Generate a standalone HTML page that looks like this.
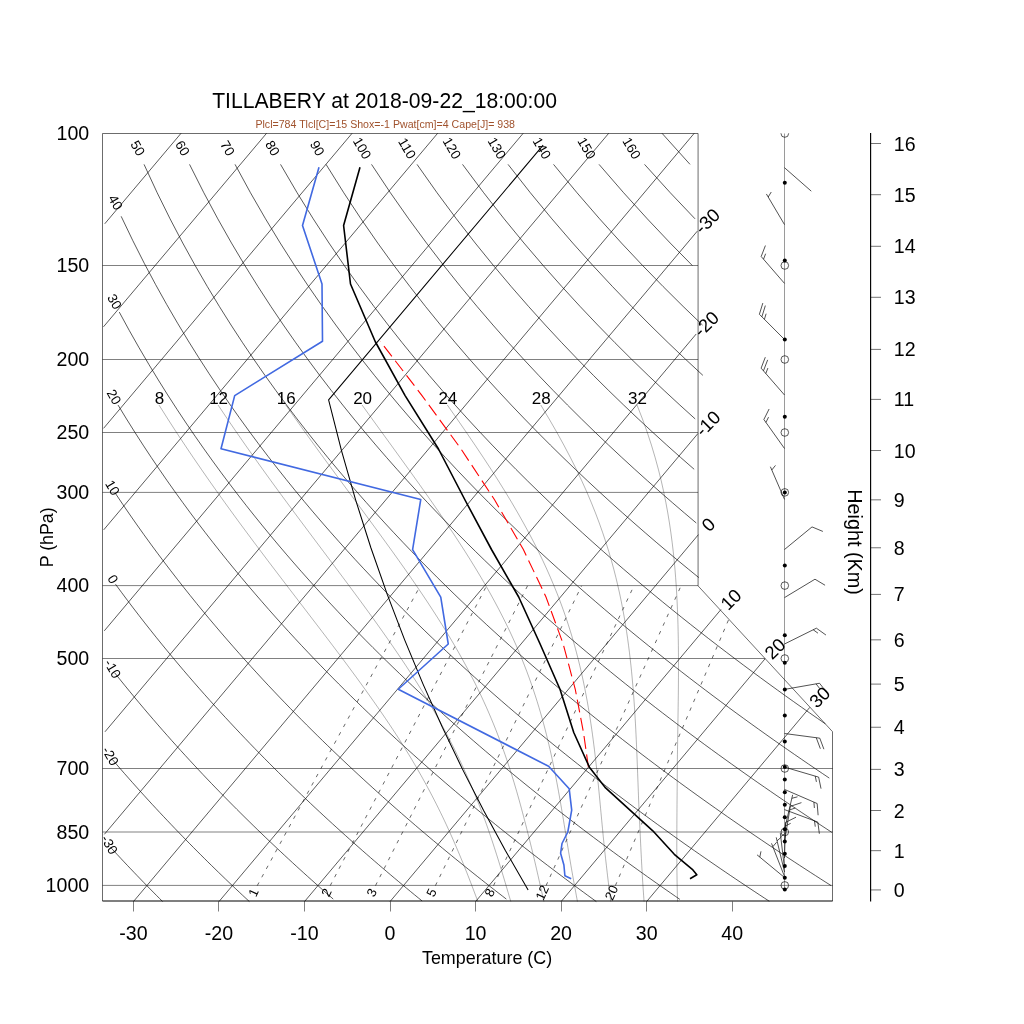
<!DOCTYPE html>
<html><head><meta charset="utf-8"><title>Skew-T</title>
<style>
html,body{margin:0;padding:0;background:#fff;}
svg{display:block;will-change:transform;}
text{font-family:"Liberation Sans",sans-serif;}
</style></head>
<body>
<svg width="1024" height="1024" viewBox="0 0 1024 1024">
<defs><clipPath id="poly"><path d="M102.5 133.26 L102.5 901.59 L832.72 901.59 L832.72 731.67 L698.08 585.9 L698.08 133.26 L102.5 133.26Z"/></clipPath><clipPath id="vp"><rect x="0" y="133.2" width="1024" height="900"/></clipPath></defs>
<rect width="1024" height="1024" fill="#fff"/>
<!-- wind staff + level markers -->
<path d="M784.5 133.5 V889.8" stroke="#000" stroke-width="0.4"/>
<g fill="none" stroke="#000" stroke-width="0.65" clip-path="url(#vp)"><circle cx="784.8" cy="885.4" r="3.8"/><circle cx="784.8" cy="832" r="3.8"/><circle cx="784.8" cy="768.5" r="3.8"/><circle cx="784.8" cy="658.5" r="3.8"/><circle cx="784.8" cy="585.6" r="3.8"/><circle cx="784.8" cy="492.4" r="3.8"/><circle cx="784.8" cy="432.5" r="3.8"/><circle cx="784.8" cy="359.5" r="3.8"/><circle cx="784.8" cy="265.5" r="3.8"/><circle cx="784.8" cy="133.5" r="3.8"/></g>
<!-- wind barbs -->
<path d="M784.5 167.7 L811.28 191.16 M784.5 224.6 L766.38 193.96 M768.19 197.02 L771.25 192.01 M784.5 283.4 L761.18 256.5 M761.18 256.5 L765.41 245.54 M763.52 259.19 L765.63 253.71 M784.5 339.5 L759.38 314.28 M759.38 314.28 L762.84 303.05 M761.89 316.8 L765.35 305.57 M764.4 319.32 L766.13 313.71 M784.5 395 L761.12 368.15 M761.12 368.15 L765.32 357.18 M763.46 370.84 L767.66 359.87 M765.8 373.52 L767.9 368.04 M784.5 448.5 L763.86 419.5 M763.86 419.5 L769.11 408.99 M765.92 422.4 L768.55 417.14 M784.5 499.4 L770.39 466.72 M771.8 469.98 L775.47 465.4 M784.5 549.5 L812.02 526.91 M812.02 526.91 L822.86 531.43 M784.5 597.6 L814.98 579.21 M814.98 579.21 L825.06 585.24 M784.5 644 L816.4 628.2 M816.4 628.2 L825.95 635.04 M813.21 629.78 L817.98 633.2 M784.5 689.4 L819.56 683.25 M819.56 683.25 L826.79 692.51 M816.06 683.86 L819.67 688.49 M784.5 733.5 L819.79 738.18 M819.79 738.18 L823.9 749.19 M816.26 737.71 L820.37 748.72 M784.5 767.1 L818.65 777.14 M818.65 777.14 L821.02 788.65 M815.24 776.14 L816.42 781.89 M784.5 789.4 L817.17 803.53 M817.17 803.53 L818.12 815.24 M813.91 802.12 L814.38 807.97 M784.5 809.6 L817.83 822.1 M817.83 822.1 L819.36 833.75 M814.5 820.85 L815.26 826.67 M784.5 829.5 L792.65 794.85 M791.84 798.31 L797.52 796.82 M784.5 841.5 L790.3 806.38 M790.3 806.38 L801.44 802.63 M789.72 809.89 L795.29 808.01 M784.5 858 L785.5 822.41 M785.5 822.41 L796.02 817.19 M785.4 825.97 L790.66 823.36 M784.5 868.4 L780.31 833.05 M780.73 836.58 L785.55 833.23 M784.5 872 L776.23 837.37 M777.06 840.84 L781.46 836.95 M784.5 876.5 L771.53 843.35 M772.83 846.66 L776.65 842.2 M784.5 877.5 L757.05 854.83 M759.8 857.1 L760.97 851.34" fill="none" stroke="#000" stroke-width="0.68"/>
<g fill="#000"><circle cx="784.8" cy="182.8" r="2"/><circle cx="784.8" cy="260.4" r="2"/><circle cx="784.8" cy="339.6" r="2"/><circle cx="784.8" cy="416.7" r="2"/><circle cx="784.8" cy="492.4" r="2"/><circle cx="784.8" cy="565.6" r="2"/><circle cx="784.8" cy="635.3" r="2"/><circle cx="784.8" cy="662.7" r="2"/><circle cx="784.8" cy="689.4" r="2"/><circle cx="784.8" cy="715.6" r="2"/><circle cx="784.8" cy="741.6" r="2"/><circle cx="784.8" cy="767.1" r="2"/><circle cx="784.8" cy="779.6" r="2"/><circle cx="784.8" cy="792.3" r="2"/><circle cx="784.8" cy="804.7" r="2"/><circle cx="784.8" cy="817.2" r="2"/><circle cx="784.8" cy="829.3" r="2"/><circle cx="784.8" cy="841.5" r="2"/><circle cx="784.8" cy="853.75" r="2"/><circle cx="784.8" cy="865.9" r="2"/><circle cx="784.8" cy="877.8" r="2"/><circle cx="784.8" cy="889.4" r="2"/></g>
<!-- skew-T background -->
<path d="M104.73 223.82 L181.05 133.28 M103.48 326.84 L266.58 133.28 M103.56 428.35 L352.12 133.28 M103.69 529.85 L437.66 133.28 M104.29 630.84 L523.19 133.28 M104.97 731.8 L608.73 133.28 M104.36 834.33 L694.26 133.28 M133.43 901.59 L697.3 231.15 M218.96 901.59 L696.23 333.98 M304.5 901.59 L697.89 433.59 M390.03 901.59 L698.39 534.66 M475.57 901.59 L720.98 609.5 M561.11 901.59 L765.06 658.81 M646.64 901.59 L809.8 707.35 M110.7 847.47 L114.06 851.12 L117.41 854.74 L120.75 858.32 L124.06 861.86 L127.37 865.36 L130.65 868.82 L133.92 872.25 L137.17 875.64 L140.41 879 L143.63 882.33 L146.84 885.62 L150.03 888.88 L153.21 892.1 L156.37 895.3 L159.52 898.46 L162.65 901.59 M112.25 759.39 L116.35 764.17 L120.43 768.87 L124.48 773.52 L128.5 778.09 L132.5 782.61 L136.48 787.06 L140.43 791.45 L144.36 795.79 L148.26 800.06 L152.14 804.29 L156 808.45 L159.84 812.57 L163.66 816.64 L167.45 820.65 L171.22 824.62 L174.97 828.54 L178.71 832.41 L182.42 836.24 L186.11 840.03 L189.78 843.77 L193.43 847.47 L197.06 851.12 L200.67 854.74 L204.27 858.32 L207.84 861.86 L211.4 865.36 L214.94 868.82 L218.46 872.25 L221.97 875.64 L225.45 879 L228.92 882.33 L232.37 885.62 L235.81 888.88 L239.23 892.1 L242.63 895.3 L246.02 898.46 L249.39 901.59 M114.72 672.89 L119.67 679.1 L124.59 685.19 L129.47 691.17 L134.31 697.04 L139.11 702.81 L143.88 708.48 L148.62 714.05 L153.32 719.53 L157.98 724.92 L162.62 730.22 L167.22 735.44 L171.78 740.58 L176.32 745.63 L180.82 750.61 L185.3 755.52 L189.74 760.35 L194.16 765.11 L198.54 769.81 L202.9 774.44 L207.23 779 L211.53 783.5 L215.81 787.94 L220.06 792.32 L224.28 796.65 L228.47 800.91 L232.65 805.12 L236.79 809.28 L240.91 813.39 L245.01 817.44 L249.08 821.45 L253.13 825.41 L257.15 829.32 L261.16 833.18 L265.14 837 L269.09 840.78 L273.03 844.51 L276.94 848.2 L280.83 851.85 L284.71 855.46 L288.56 859.03 L292.39 862.56 L296.2 866.06 L299.99 869.51 L303.76 872.93 L307.51 876.32 L311.24 879.67 L314.95 882.99 L318.65 886.27 L322.32 889.52 L325.98 892.74 L329.62 895.93 L333.24 899.09 M115.51 584.22 L121.47 592.33 L127.38 600.25 L133.23 607.98 L139.03 615.53 L144.77 622.91 L150.47 630.12 L156.11 637.19 L161.7 644.1 L167.25 650.87 L172.74 657.5 L178.19 664 L183.59 670.38 L188.95 676.63 L194.27 682.77 L199.54 688.79 L204.77 694.71 L209.96 700.52 L215.1 706.22 L220.21 711.83 L225.28 717.35 L230.31 722.78 L235.3 728.11 L240.26 733.36 L245.18 738.53 L250.06 743.62 L254.91 748.63 L259.73 753.56 L264.51 758.43 L269.26 763.22 L273.97 767.94 L278.65 772.59 L283.31 777.18 L287.93 781.71 L292.52 786.17 L297.08 790.58 L301.61 794.92 L306.12 799.21 L310.59 803.45 L315.04 807.63 L319.46 811.75 L323.85 815.83 L328.21 819.85 L332.55 823.83 L336.87 827.76 L341.15 831.64 L345.42 835.48 L349.65 839.27 L353.87 843.02 L358.06 846.73 L362.22 850.4 L366.37 854.02 L370.49 857.61 L374.58 861.15 L378.66 864.66 L382.71 868.13 L386.74 871.57 L390.75 874.97 L394.74 878.33 L398.71 881.66 L402.66 884.96 L406.59 888.23 L410.49 891.46 L414.38 894.66 L418.25 897.83 L422.1 900.97 M115.85 494.02 L122.99 504.66 L130.05 514.97 L137.03 524.96 L143.93 534.66 L150.76 544.08 L157.51 553.23 L164.19 562.14 L170.8 570.81 L177.34 579.25 L183.81 587.49 L190.22 595.52 L196.56 603.36 L202.84 611.02 L209.06 618.5 L215.22 625.81 L221.32 632.97 L227.36 639.97 L233.35 646.82 L239.28 653.54 L245.16 660.12 L250.99 666.57 L256.77 672.89 L262.49 679.1 L268.17 685.19 L273.8 691.17 L279.39 697.04 L284.93 702.81 L290.42 708.48 L295.87 714.05 L301.28 719.53 L306.64 724.92 L311.96 730.22 L317.25 735.44 L322.49 740.58 L327.69 745.63 L332.86 750.61 L337.99 755.52 L343.08 760.35 L348.13 765.11 L353.15 769.81 L358.14 774.44 L363.09 779 L368 783.5 L372.89 787.94 L377.74 792.32 L382.56 796.65 L387.34 800.91 L392.1 805.12 L396.83 809.28 L401.52 813.39 L406.19 817.44 L410.83 821.45 L415.43 825.41 L420.01 829.32 L424.57 833.18 L429.09 837 L433.59 840.78 L438.07 844.51 L442.51 848.2 L446.93 851.85 L451.33 855.46 L455.7 859.03 L460.05 862.56 L464.37 866.06 L468.67 869.51 L472.94 872.93 L477.2 876.32 L481.43 879.67 L485.63 882.99 L489.82 886.27 L493.98 889.52 L498.12 892.74 L502.24 895.93 L506.34 899.09 M118.03 405.06 L126.5 418.96 L134.86 432.29 L143.1 445.1 L151.24 457.43 L159.27 469.31 L167.2 480.77 L175.03 491.85 L182.76 502.56 L190.39 512.93 L197.93 522.99 L205.38 532.74 L212.75 542.22 L220.03 551.42 L227.22 560.38 L234.34 569.09 L241.38 577.58 L248.34 585.86 L255.22 593.93 L262.04 601.81 L268.78 609.5 L275.45 617.02 L282.06 624.36 L288.6 631.55 L295.08 638.58 L301.49 645.46 L307.85 652.21 L314.14 658.81 L320.38 665.29 L326.56 671.64 L332.69 677.87 L338.76 683.98 L344.77 689.98 L350.74 695.88 L356.66 701.67 L362.52 707.35 L368.34 712.95 L374.11 718.44 L379.83 723.85 L385.51 729.17 L391.14 734.4 L396.73 739.56 L402.28 744.63 L407.78 749.62 L413.24 754.54 L418.67 759.39 L424.05 764.17 L429.39 768.87 L434.7 773.52 L439.97 778.09 L445.2 782.61 L450.39 787.06 L455.55 791.45 L460.67 795.79 L465.76 800.06 L470.82 804.29 L475.84 808.45 L480.83 812.57 L485.79 816.64 L490.72 820.65 L495.61 824.62 L500.48 828.54 L505.31 832.41 L510.12 836.24 L514.89 840.03 L519.64 843.77 L524.36 847.47 L529.05 851.12 L533.71 854.74 L538.35 858.32 L542.96 861.86 L547.54 865.36 L552.1 868.82 L556.63 872.25 L561.14 875.64 L565.62 879 L570.08 882.33 L574.52 885.62 L578.93 888.88 L583.32 892.1 L587.68 895.3 L592.02 898.46 L596.34 901.59 M119.28 312.09 L129.26 330.43 L139.1 347.8 L148.79 364.29 L158.33 379.99 L167.72 394.97 L176.97 409.29 L186.09 423.02 L195.08 436.19 L203.93 448.85 L212.67 461.04 L221.28 472.79 L229.77 484.13 L238.15 495.1 L246.41 505.71 L254.57 515.98 L262.63 525.94 L270.59 535.61 L278.45 545 L286.21 554.13 L293.88 563.02 L301.46 571.66 L308.96 580.09 L316.37 588.3 L323.7 596.31 L330.94 604.13 L338.12 611.77 L345.21 619.24 L352.23 626.54 L359.18 633.67 L366.06 640.66 L372.87 647.5 L379.62 654.2 L386.3 660.77 L392.91 667.21 L399.47 673.52 L405.96 679.71 L412.4 685.79 L418.78 691.76 L425.1 697.62 L431.36 703.38 L437.58 709.04 L443.74 714.6 L449.85 720.07 L455.9 725.45 L461.91 730.75 L467.87 735.96 L473.79 741.09 L479.65 746.13 L485.47 751.11 L491.25 756 L496.98 760.83 L502.67 765.59 L508.32 770.27 L513.93 774.9 L519.5 779.45 L525.02 783.95 L530.51 788.38 L535.96 792.76 L541.37 797.07 L546.75 801.34 L552.09 805.54 L557.39 809.7 L562.66 813.8 L567.89 817.85 L573.09 821.85 L578.26 825.8 L583.39 829.71 L588.49 833.57 L593.56 837.38 L598.6 841.15 L603.6 844.88 L608.58 848.57 L613.53 852.21 L618.44 855.82 L623.33 859.38 L628.19 862.91 L633.03 866.4 L637.83 869.86 L642.61 873.27 L647.36 876.66 L652.08 880 L656.78 883.32 L661.45 886.6 L666.1 889.85 L670.72 893.06 L675.32 896.25 L679.89 899.4 M121.17 216.32 L132.83 240.68 L144.31 263.35 L155.59 284.55 L166.68 304.45 L177.58 323.21 L188.3 340.96 L198.83 357.79 L209.19 373.8 L219.38 389.06 L229.4 403.64 L239.26 417.59 L248.97 430.98 L258.53 443.84 L267.94 456.22 L277.22 468.14 L286.36 479.64 L295.37 490.76 L304.25 501.5 L313.02 511.91 L321.66 522 L330.19 531.78 L338.61 541.28 L346.93 550.51 L355.14 559.49 L363.25 568.23 L371.26 576.74 L379.18 585.04 L387.01 593.13 L394.75 601.03 L402.4 608.74 L409.97 616.27 L417.46 623.64 L424.87 630.84 L432.2 637.88 L439.45 644.78 L446.64 651.54 L453.75 658.16 L460.79 664.65 L467.76 671.01 L474.67 677.25 L481.51 683.38 L488.29 689.39 L495 695.29 L501.66 701.09 L508.26 706.79 L514.8 712.39 L521.28 717.9 L527.71 723.31 L534.09 728.64 L540.41 733.88 L546.68 739.04 L552.9 744.12 L559.07 749.13 L565.19 754.05 L571.27 758.91 L577.3 763.69 L583.28 768.41 L589.22 773.05 L595.11 777.64 L600.96 782.16 L606.77 786.62 L612.54 791.01 L618.26 795.35 L623.95 799.64 L629.59 803.87 L635.2 808.04 L640.77 812.16 L646.31 816.23 L651.8 820.25 L657.26 824.23 L662.69 828.15 L668.08 832.03 L673.43 835.86 L678.75 839.65 L684.04 843.4 L689.3 847.1 L694.52 850.76 L699.71 854.38 L704.88 857.96 L710.01 861.51 L715.11 865.01 L720.18 868.48 L725.22 871.91 L730.23 875.31 L735.21 878.67 L740.17 882 L745.1 885.29 L750 888.55 L754.87 891.78 L759.72 894.98 L764.54 898.14 L769.34 901.28 M144.04 164.36 L157.17 192.73 L170.07 218.84 L182.74 243.02 L195.16 265.53 L207.35 286.59 L219.31 306.38 L231.04 325.03 L242.56 342.68 L253.86 359.43 L264.96 375.36 L275.86 390.54 L286.58 405.06 L297.11 418.96 L307.47 432.29 L317.67 445.1 L327.7 457.43 L337.57 469.31 L347.3 480.77 L356.88 491.85 L366.32 502.56 L375.63 512.93 L384.81 522.99 L393.87 532.74 L402.8 542.22 L411.62 551.42 L420.32 560.38 L428.91 569.09 L437.4 577.58 L445.79 585.86 L454.07 593.93 L462.26 601.81 L470.36 609.5 L478.36 617.02 L486.28 624.36 L494.11 631.55 L501.85 638.58 L509.51 645.46 L517.1 652.21 L524.61 658.81 L532.04 665.29 L539.4 671.64 L546.69 677.87 L553.9 683.98 L561.05 689.98 L568.14 695.88 L575.16 701.67 L582.11 707.35 L589 712.95 L595.84 718.44 L602.61 723.85 L609.33 729.17 L615.99 734.4 L622.59 739.56 L629.14 744.63 L635.64 749.62 L642.08 754.54 L648.48 759.39 L654.82 764.17 L661.11 768.87 L667.36 773.52 L673.56 778.09 L679.72 782.61 L685.83 787.06 L691.89 791.45 L697.91 795.79 L703.89 800.06 L709.83 804.29 L715.72 808.45 L721.58 812.57 L727.39 816.64 L733.17 820.65 L738.9 824.62 L744.6 828.54 L750.26 832.41 L755.89 836.24 L761.48 840.03 L767.03 843.77 L772.55 847.47 L778.04 851.12 L783.49 854.74 L788.91 858.32 L794.3 861.86 L799.65 865.36 L804.97 868.82 L810.26 872.25 L815.52 875.64 L820.75 879 L825.95 882.33 L831.13 885.62 M189.54 164.36 L203.82 192.73 L217.8 218.84 L231.48 243.02 L244.88 265.53 L257.99 286.59 L270.84 306.38 L283.42 325.03 L295.75 342.68 L307.84 359.43 L319.7 375.36 L331.34 390.54 L342.76 405.06 L353.98 418.96 L365.01 432.29 L375.85 445.1 L386.52 457.43 L397.01 469.31 L407.33 480.77 L417.5 491.85 L427.51 502.56 L437.38 512.93 L447.11 522.99 L456.69 532.74 L466.15 542.22 L475.48 551.42 L484.69 560.38 L493.77 569.09 L502.74 577.58 L511.6 585.86 L520.36 593.93 L529 601.81 L537.55 609.5 L546 617.02 L554.35 624.36 L562.61 631.55 L570.77 638.58 L578.85 645.46 L586.85 652.21 L594.76 658.81 L602.59 665.29 L610.34 671.64 L618.02 677.87 L625.62 683.98 L633.15 689.98 L640.6 695.88 L647.99 701.67 L655.31 707.35 L662.56 712.95 L669.75 718.44 L676.87 723.85 L683.93 729.17 L690.93 734.4 L697.88 739.56 L704.76 744.63 L711.59 749.62 L718.36 754.54 L725.08 759.39 L731.74 764.17 L738.36 768.87 L744.92 773.52 L751.43 778.09 L757.89 782.61 L764.3 787.06 L770.67 791.45 L776.99 795.79 L783.26 800.06 L789.49 804.29 L795.68 808.45 L801.82 812.57 L807.92 816.64 L813.98 820.65 L820 824.62 L825.98 828.54 L831.92 832.41 M235.04 164.36 L250.46 192.73 L265.52 218.84 L280.23 243.02 L294.6 265.53 L308.64 286.59 L322.37 306.38 L335.8 325.03 L348.95 342.68 L361.82 359.43 L374.44 375.36 L386.81 390.54 L398.94 405.06 L410.85 418.96 L422.55 432.29 L434.04 445.1 L445.34 457.43 L456.44 469.31 L467.37 480.77 L478.12 491.85 L488.7 502.56 L499.13 512.93 L509.4 522.99 L519.52 532.74 L529.5 542.22 L539.34 551.42 L549.05 560.38 L558.63 569.09 L568.09 577.58 L577.42 585.86 L586.64 593.93 L595.75 601.81 L604.74 609.5 L613.63 617.02 L622.42 624.36 L631.11 631.55 L639.7 638.58 L648.19 645.46 L656.6 652.21 L664.92 658.81 L673.15 665.29 L681.29 671.64 L689.35 677.87 L697.34 683.98 L705.24 689.98 L713.07 695.88 L720.82 701.67 L728.5 707.35 L736.11 712.95 L743.66 718.44 L751.13 723.85 L758.54 729.17 L765.88 734.4 L773.16 739.56 L780.38 744.63 L787.54 749.62 L794.64 754.54 L801.68 759.39 L808.67 764.17 L815.6 768.87 L822.47 773.52 L829.29 778.09 M280.54 164.36 L297.1 192.73 L313.24 218.84 L328.97 243.02 L344.31 265.53 L359.28 286.59 L373.9 306.38 L388.18 325.03 L402.14 342.68 L415.8 359.43 L429.18 375.36 L442.28 390.54 L455.13 405.06 L467.73 418.96 L480.09 432.29 L492.23 445.1 L504.16 457.43 L515.88 469.31 L527.4 480.77 L538.74 491.85 L549.89 502.56 L560.88 512.93 L571.69 522.99 L582.35 532.74 L592.85 542.22 L603.21 551.42 L613.42 560.38 L623.49 569.09 L633.43 577.58 L643.24 585.86 L652.92 593.93 L662.49 601.81 L671.93 609.5 L681.27 617.02 L690.49 624.36 L699.61 631.55 L708.62 638.58 L717.54 645.46 L726.35 652.21 L735.07 658.81 L743.7 665.29 L752.24 671.64 L760.69 677.87 L769.05 683.98 L777.33 689.98 L785.53 695.88 L793.66 701.67 L801.7 707.35 L809.67 712.95 L817.57 718.44 L825.39 723.85 M326.03 164.36 L343.75 192.73 L360.97 218.84 L377.72 243.02 L394.03 265.53 L409.93 286.59 L425.43 306.38 L440.56 325.03 L455.34 342.68 L469.78 359.43 L483.92 375.36 L497.75 390.54 L511.31 405.06 L524.6 418.96 L537.63 432.29 L550.42 445.1 L562.97 457.43 L575.31 469.31 L587.43 480.77 L599.36 491.85 L611.08 502.56 L622.62 512.93 L633.99 522.99 L645.18 532.74 L656.2 542.22 L667.07 551.42 L677.78 560.38 L688.35 569.09 L698.77 577.58 M371.53 164.36 L390.39 192.73 L408.69 218.84 L426.47 243.02 L443.75 265.53 L460.57 286.59 L476.96 306.38 L492.94 325.03 L508.53 342.68 L523.77 359.43 L538.66 375.36 L553.23 390.54 L567.49 405.06 L581.47 418.96 L595.17 432.29 L608.6 445.1 L621.79 457.43 L634.74 469.31 L647.47 480.77 L659.97 491.85 L672.27 502.56 L684.37 512.93 L696.28 522.99 M417.03 164.36 L437.03 192.73 L456.42 218.84 L475.21 243.02 L493.47 265.53 L511.21 286.59 L528.49 306.38 L545.31 325.03 L561.73 342.68 L577.75 359.43 L593.4 375.36 L608.7 390.54 L623.68 405.06 L638.34 418.96 L652.71 432.29 L666.79 445.1 L680.61 457.43 L694.18 469.31 M462.53 164.36 L483.68 192.73 L504.14 218.84 L523.96 243.02 L543.19 265.53 L561.86 286.59 L580.02 306.38 L597.69 325.03 L614.92 342.68 L631.73 359.43 L648.14 375.36 L664.17 390.54 L679.86 405.06 L695.21 418.96 M508.02 164.36 L530.32 192.73 L551.86 218.84 L572.71 243.02 L592.9 265.53 L612.5 286.59 L631.55 306.38 L650.07 325.03 L668.12 342.68 L685.71 359.43 L702.88 375.36 M553.52 164.36 L576.97 192.73 L599.59 218.84 L621.45 243.02 L642.62 265.53 L663.15 286.59 L683.08 306.38 L702.45 325.03 M599.02 164.36 L623.61 192.73 L647.31 218.84 L670.2 243.02 L692.34 265.53 M644.52 164.36 L670.25 192.73 L695.04 218.84 M662 133.28 L690.01 164.36" fill="none" stroke="#000" stroke-width="0.65"/>
<path d="M102.5 885.4 H832.72 M102.5 832 H832.72 M102.5 768.5 H832.72 M102.5 658.5 H765.09 M102.5 585.6 H698.08 M102.5 492.4 H698.08 M102.5 432.5 H698.08 M102.5 359.5 H698.08 M102.5 265.5 H698.08" fill="none" stroke="#000" stroke-width="0.5"/>
<path d="M637.04 405.06 L642.45 418.96 L647.22 432.29 L651.43 445.1 L655.12 457.43 L658.37 469.31 L661.22 480.77 L663.71 491.85 L665.89 502.56 L667.79 512.93 L669.45 522.99 L670.89 532.74 L672.14 542.22 L673.22 551.42 L674.16 560.38 L674.96 569.09 L675.64 577.58 L676.22 585.86 L676.71 593.93 L677.12 601.81 L677.46 609.5 L677.74 617.02 L677.97 624.36 L678.14 631.55 L678.27 638.58 L678.37 645.46 L678.43 652.21 L678.47 658.81 L678.48 665.29 L678.48 671.64 L678.45 677.87 L678.41 683.98 L678.36 689.98 L678.3 695.88 L678.23 701.67 L678.15 707.35 L678.07 712.95 L677.99 718.44 L677.9 723.85 L677.82 729.17 L677.74 734.4 L677.66 739.56 L677.58 744.63 L677.5 749.62 L677.43 754.54 L677.37 759.39 L677.32 764.17 L677.29 768.87 L677.27 773.52 L677.24 778.09 L677.2 782.61 L677.17 787.06 L677.13 791.45 L677.1 795.79 L677.06 800.06 L677.03 804.29 L676.99 808.45 L676.96 812.57 L676.93 816.64 L676.9 820.65 L676.88 824.62 L676.86 828.54 L676.84 832.41 L676.83 836.24 L676.82 840.03 L676.81 843.77 L676.81 847.47 L676.82 851.12 L676.83 854.74 L676.84 858.32 L676.86 861.86 L676.89 865.36 L676.92 868.82 L676.95 872.25 L677 875.64 L677.04 879 L677.1 882.33 L677.16 885.62 L677.23 888.88 L677.3 892.1 L677.38 895.3 L677.47 898.46 L677.57 901.59 M540.82 405.06 L549.13 418.96 L556.8 432.29 L563.86 445.1 L570.35 457.43 L576.3 469.31 L581.75 480.77 L586.74 491.85 L591.29 502.56 L595.46 512.93 L599.25 522.99 L602.71 532.74 L605.87 542.22 L608.74 551.42 L611.36 560.38 L613.75 569.09 L615.92 577.58 L617.9 585.86 L619.71 593.93 L621.35 601.81 L622.84 609.5 L624.21 617.02 L625.45 624.36 L626.58 631.55 L627.62 638.58 L628.56 645.46 L629.42 652.21 L630.2 658.81 L630.92 665.29 L631.57 671.64 L632.17 677.87 L632.71 683.98 L633.21 689.98 L633.67 695.88 L634.09 701.67 L634.48 707.35 L634.84 712.95 L635.16 718.44 L635.47 723.85 L635.75 729.17 L636.01 734.4 L636.26 739.56 L636.49 744.63 L636.7 749.62 L636.91 754.54 L637.1 759.39 L637.29 764.17 L637.47 768.87 L637.65 773.52 L637.82 778.09 L637.99 782.61 L638.15 787.06 L638.32 791.45 L638.48 795.79 L638.64 800.06 L638.81 804.29 L638.98 808.45 L639.18 812.57 L639.37 816.64 L639.57 820.65 L639.75 824.62 L639.94 828.54 L640.12 832.41 L640.3 836.24 L640.48 840.03 L640.65 843.77 L640.83 847.47 L641.01 851.12 L641.19 854.74 L641.38 858.32 L641.56 861.86 L641.75 865.36 L641.94 868.82 L642.13 872.25 L642.33 875.64 L642.53 879 L642.74 882.33 L642.95 885.62 L643.16 888.88 L643.38 892.1 L643.61 895.3 L643.84 898.46 L644.07 901.59 M447.36 405.06 L457.09 418.96 L466.31 432.29 L475.03 445.1 L483.28 457.43 L491.05 469.31 L498.38 480.77 L505.27 491.85 L511.74 502.56 L517.8 512.93 L523.48 522.99 L528.8 532.74 L533.76 542.22 L538.4 551.42 L542.73 560.38 L546.76 569.09 L550.51 577.58 L554.01 585.86 L557.27 593.93 L560.3 601.81 L563.12 609.5 L565.75 617.02 L568.19 624.36 L570.46 631.55 L572.58 638.58 L574.55 645.46 L576.39 652.21 L578.1 658.81 L579.7 665.29 L581.19 671.64 L582.58 677.87 L583.88 683.98 L585.1 689.98 L586.23 695.88 L587.3 701.67 L588.3 707.35 L589.23 712.95 L590.11 718.44 L590.94 723.85 L591.72 729.17 L592.46 734.4 L593.16 739.56 L593.81 744.63 L594.44 749.62 L595.03 754.54 L595.6 759.39 L596.14 764.17 L596.66 768.87 L597.15 773.52 L597.63 778.09 L598.09 782.61 L598.54 787.06 L598.97 791.45 L599.39 795.79 L599.8 800.06 L600.2 804.29 L600.59 808.45 L600.98 812.57 L601.36 816.64 L601.74 820.65 L602.11 824.62 L602.49 828.54 L602.86 832.41 L603.23 836.24 L603.61 840.03 L603.98 843.77 L604.36 847.47 L604.75 851.12 L605.16 854.74 L605.56 858.32 L605.96 861.86 L606.36 865.36 L606.75 868.82 L607.15 872.25 L607.54 875.64 L607.94 879 L608.33 882.33 L608.73 885.62 L609.13 888.88 L609.53 892.1 L609.94 895.3 L610.35 898.46 L610.76 901.59 M362.09 405.06 L372.14 418.96 L381.81 432.29 L391.11 445.1 L400.04 457.43 L408.61 469.31 L416.83 480.77 L424.7 491.85 L432.23 502.56 L439.43 512.93 L446.3 522.99 L452.85 532.74 L459.09 542.22 L465.03 551.42 L470.67 560.38 L476.03 569.09 L481.11 577.58 L485.93 585.86 L490.5 593.93 L494.81 601.81 L498.9 609.5 L502.76 617.02 L506.41 624.36 L509.86 631.55 L513.11 638.58 L516.19 645.46 L519.09 652.21 L521.83 658.81 L524.41 665.29 L526.86 671.64 L529.16 677.87 L531.34 683.98 L533.4 689.98 L535.35 695.88 L537.2 701.67 L538.94 707.35 L540.59 712.95 L542.16 718.44 L543.65 723.85 L545.06 729.17 L546.4 734.4 L547.68 739.56 L548.89 744.63 L550.05 749.62 L551.16 754.54 L552.22 759.39 L553.23 764.17 L554.2 768.87 L555.13 773.52 L556.03 778.09 L556.89 782.61 L557.72 787.06 L558.52 791.45 L559.3 795.79 L560.06 800.06 L560.79 804.29 L561.5 808.45 L562.2 812.57 L562.88 816.64 L563.55 820.65 L564.2 824.62 L564.84 828.54 L565.47 832.41 L566.1 836.24 L566.71 840.03 L567.32 843.77 L567.93 847.47 L568.53 851.12 L569.13 854.74 L569.73 858.32 L570.32 861.86 L570.92 865.36 L571.51 868.82 L572.11 872.25 L572.71 875.64 L573.31 879 L573.91 882.33 L574.52 885.62 L575.12 888.88 L575.71 892.1 L576.29 895.3 L576.86 898.46 L577.43 901.59 M285.81 405.06 L295.62 418.96 L305.15 432.29 L314.4 445.1 L323.37 457.43 L332.08 469.31 L340.52 480.77 L348.69 491.85 L356.59 502.56 L364.24 512.93 L371.64 522.99 L378.78 532.74 L385.67 542.22 L392.32 551.42 L398.73 560.38 L404.9 569.09 L410.83 577.58 L416.54 585.86 L422.02 593.93 L427.29 601.81 L432.34 609.5 L437.18 617.02 L441.81 624.36 L446.25 631.55 L450.5 638.58 L454.56 645.46 L458.44 652.21 L462.15 658.81 L465.69 665.29 L469.08 671.64 L472.31 677.87 L475.4 683.98 L478.34 689.98 L481.15 695.88 L483.84 701.67 L486.41 707.35 L488.86 712.95 L491.2 718.44 L493.44 723.85 L495.58 729.17 L497.63 734.4 L499.6 739.56 L501.48 744.63 L503.28 749.62 L505.01 754.54 L506.67 759.39 L508.26 764.17 L509.8 768.87 L511.28 773.52 L512.7 778.09 L514.08 782.61 L515.4 787.06 L516.69 791.45 L517.93 795.79 L519.13 800.06 L520.3 804.29 L521.43 808.45 L522.54 812.57 L523.61 816.64 L524.66 820.65 L525.69 824.62 L526.69 828.54 L527.67 832.41 L528.64 836.24 L529.58 840.03 L530.51 843.77 L531.43 847.47 L532.33 851.12 L533.22 854.74 L534.06 858.32 L534.89 861.86 L535.7 865.36 L536.49 868.82 L537.27 872.25 L538.05 875.64 L538.81 879 L539.56 882.33 L540.3 885.62 L541.04 888.88 L541.77 892.1 L542.5 895.3 L543.22 898.46 L543.94 901.59 M218.08 405.06 L227.41 418.96 L236.54 432.29 L245.45 445.1 L254.16 457.43 L262.66 469.31 L270.95 480.77 L279.04 491.85 L286.93 502.56 L294.62 512.93 L302.11 522.99 L309.41 532.74 L316.51 542.22 L323.42 551.42 L330.15 560.38 L336.68 569.09 L343.03 577.58 L349.2 585.86 L355.18 593.93 L360.99 601.81 L366.62 609.5 L372.08 617.02 L377.36 624.36 L382.48 631.55 L387.43 638.58 L392.22 645.46 L396.84 652.21 L401.31 658.81 L405.63 665.29 L409.79 671.64 L413.81 677.87 L417.69 683.98 L421.43 689.98 L425.04 695.88 L428.51 701.67 L431.86 707.35 L435.09 712.95 L438.2 718.44 L441.2 723.85 L444.09 729.17 L446.88 734.4 L449.56 739.56 L452.15 744.63 L454.65 749.62 L457.06 754.54 L459.39 759.39 L461.64 764.17 L463.81 768.87 L465.91 773.52 L467.94 778.09 L469.91 782.61 L471.81 787.06 L473.66 791.45 L475.45 795.79 L477.19 800.06 L478.88 804.29 L480.52 808.45 L482.12 812.57 L483.65 816.64 L485.12 820.65 L486.55 824.62 L487.93 828.54 L489.28 832.41 L490.58 836.24 L491.86 840.03 L493.1 843.77 L494.31 847.47 L495.49 851.12 L496.65 854.74 L497.78 858.32 L498.88 861.86 L499.97 865.36 L501.03 868.82 L502.08 872.25 L503.1 875.64 L504.11 879 L505.11 882.33 L506.09 885.62 L507.06 888.88 L508.01 892.1 L508.95 895.3 L509.89 898.46 L510.81 901.59 M159.02 405.06 L167.8 418.96 L176.42 432.29 L184.89 445.1 L193.19 457.43 L201.33 469.31 L209.32 480.77 L217.15 491.85 L224.82 502.56 L232.34 512.93 L239.7 522.99 L246.91 532.74 L253.97 542.22 L260.88 551.42 L267.64 560.38 L274.25 569.09 L280.72 577.58 L287.04 585.86 L293.22 593.93 L299.26 601.81 L305.16 609.5 L310.92 617.02 L316.54 624.36 L322.03 631.55 L327.38 638.58 L332.6 645.46 L337.68 652.21 L342.64 658.81 L347.47 665.29 L352.17 671.64 L356.75 677.87 L361.2 683.98 L365.53 689.98 L369.74 695.88 L373.84 701.67 L377.82 707.35 L381.68 712.95 L385.44 718.44 L389.09 723.85 L392.63 729.17 L396.07 734.4 L399.42 739.56 L402.66 744.63 L405.77 749.62 L408.79 754.54 L411.72 759.39 L414.55 764.17 L417.3 768.87 L419.96 773.52 L422.53 778.09 L425.03 782.61 L427.45 787.06 L429.8 791.45 L432.08 795.79 L434.29 800.06 L436.44 804.29 L438.52 808.45 L440.55 812.57 L442.52 816.64 L444.43 820.65 L446.29 824.62 L448.1 828.54 L449.86 832.41 L451.58 836.24 L453.26 840.03 L454.89 843.77 L456.48 847.47 L458.04 851.12 L459.56 854.74 L461.04 858.32 L462.5 861.86 L463.92 865.36 L465.31 868.82 L466.68 872.25 L468.01 875.64 L469.32 879 L470.61 882.33 L471.87 885.62 L473.12 888.88 L474.34 892.1 L475.54 895.3 L476.72 898.46 L477.88 901.59" fill="none" stroke="#000" stroke-width="0.3"/>
<path d="M615.39 885.62 L743.01 585.86 M546.07 885.62 L681.01 585.86 M493.55 885.62 L633.89 585.86 M435.42 885.62 L581.6 585.86 M375.5 885.62 L527.52 585.86 M330.24 885.62 L486.55 585.86 M257.25 885.62 L420.24 585.86" fill="none" stroke="#000" stroke-width="0.6" stroke-dasharray="3.6 5.9" clip-path="url(#poly)"/>
<path d="M102.5 133.5 L102.5 901 L832.5 901 L832.5 731.67 L698.08 585.9 L698.08 133.5Z" fill="none" stroke="#000" stroke-width="0.58"/>
<path d="M102.5 901 H832.72" fill="none" stroke="#000" stroke-width="0.6"/>
<path d="M133.5 901.5 V911.5" stroke="#000" stroke-width="0.5"/>
<text x="133.43" y="939.9" font-size="19.6" text-anchor="middle">-30</text>
<path d="M218.5 901.5 V911.5" stroke="#000" stroke-width="0.5"/>
<text x="218.96" y="939.9" font-size="19.6" text-anchor="middle">-20</text>
<path d="M304.5 901.5 V911.5" stroke="#000" stroke-width="0.5"/>
<text x="304.5" y="939.9" font-size="19.6" text-anchor="middle">-10</text>
<path d="M390.5 901.5 V911.5" stroke="#000" stroke-width="0.5"/>
<text x="390.03" y="939.9" font-size="19.6" text-anchor="middle">0</text>
<path d="M475.5 901.5 V911.5" stroke="#000" stroke-width="0.5"/>
<text x="475.57" y="939.9" font-size="19.6" text-anchor="middle">10</text>
<path d="M561.5 901.5 V911.5" stroke="#000" stroke-width="0.5"/>
<text x="561.11" y="939.9" font-size="19.6" text-anchor="middle">20</text>
<path d="M646.5 901.5 V911.5" stroke="#000" stroke-width="0.5"/>
<text x="646.64" y="939.9" font-size="19.6" text-anchor="middle">30</text>
<path d="M732.5 901.5 V911.5" stroke="#000" stroke-width="0.5"/>
<text x="732.18" y="939.9" font-size="19.6" text-anchor="middle">40</text>
<text x="89.2" y="892.2" font-size="19.6" text-anchor="end">1000</text>
<text x="89.2" y="838.8" font-size="19.6" text-anchor="end">850</text>
<text x="89.2" y="775.3" font-size="19.6" text-anchor="end">700</text>
<text x="89.2" y="665.3" font-size="19.6" text-anchor="end">500</text>
<text x="89.2" y="592.4" font-size="19.6" text-anchor="end">400</text>
<text x="89.2" y="499.2" font-size="19.6" text-anchor="end">300</text>
<text x="89.2" y="439.3" font-size="19.6" text-anchor="end">250</text>
<text x="89.2" y="366.3" font-size="19.6" text-anchor="end">200</text>
<text x="89.2" y="272.3" font-size="19.6" text-anchor="end">150</text>
<text x="89.2" y="140.3" font-size="19.6" text-anchor="end">100</text>
<g transform="translate(109.51 844.62) rotate(-300)">
<text x="0" y="4.83" font-size="13.5" text-anchor="middle" fill="#000">-30</text></g>
<g transform="translate(110.69 755.98) rotate(-300)">
<text x="0" y="4.83" font-size="13.5" text-anchor="middle" fill="#000">-20</text></g>
<g transform="translate(112.73 668.75) rotate(-300)">
<text x="0" y="4.83" font-size="13.5" text-anchor="middle" fill="#000">-10</text></g>
<g transform="translate(113 579.09) rotate(-300)">
<text x="0" y="4.83" font-size="13.5" text-anchor="middle" fill="#000">0</text></g>
<g transform="translate(112.74 487.56) rotate(-300)">
<text x="0" y="4.83" font-size="13.5" text-anchor="middle" fill="#000">10</text></g>
<g transform="translate(114.25 396.88) rotate(-300)">
<text x="0" y="4.83" font-size="13.5" text-anchor="middle" fill="#000">20</text></g>
<g transform="translate(114.72 301.51) rotate(-300)">
<text x="0" y="4.83" font-size="13.5" text-anchor="middle" fill="#000">30</text></g>
<g transform="translate(115.78 202.43) rotate(-300)">
<text x="0" y="4.83" font-size="13.5" text-anchor="middle" fill="#000">40</text></g>
<g transform="translate(137.9 148.18) rotate(-300)">
<text x="0" y="4.83" font-size="13.5" text-anchor="middle" fill="#000">50</text></g>
<g transform="translate(182.8 148.18) rotate(-300)">
<text x="0" y="4.83" font-size="13.5" text-anchor="middle" fill="#000">60</text></g>
<g transform="translate(227.69 148.18) rotate(-300)">
<text x="0" y="4.83" font-size="13.5" text-anchor="middle" fill="#000">70</text></g>
<g transform="translate(272.59 148.18) rotate(-300)">
<text x="0" y="4.83" font-size="13.5" text-anchor="middle" fill="#000">80</text></g>
<g transform="translate(317.48 148.18) rotate(-300)">
<text x="0" y="4.83" font-size="13.5" text-anchor="middle" fill="#000">90</text></g>
<g transform="translate(362.38 148.18) rotate(-300)">
<text x="0" y="4.83" font-size="13.5" text-anchor="middle" fill="#000">100</text></g>
<g transform="translate(407.28 148.18) rotate(-300)">
<text x="0" y="4.83" font-size="13.5" text-anchor="middle" fill="#000">110</text></g>
<g transform="translate(452.17 148.18) rotate(-300)">
<text x="0" y="4.83" font-size="13.5" text-anchor="middle" fill="#000">120</text></g>
<g transform="translate(497.07 148.18) rotate(-300)">
<text x="0" y="4.83" font-size="13.5" text-anchor="middle" fill="#000">130</text></g>
<g transform="translate(541.97 148.18) rotate(-300)">
<text x="0" y="4.83" font-size="13.5" text-anchor="middle" fill="#000">140</text></g>
<g transform="translate(586.86 148.18) rotate(-300)">
<text x="0" y="4.83" font-size="13.5" text-anchor="middle" fill="#000">150</text></g>
<g transform="translate(631.76 148.18) rotate(-300)">
<text x="0" y="4.83" font-size="13.5" text-anchor="middle" fill="#000">160</text></g>
<g transform="translate(707.13 220.93) rotate(-45)">
<text x="0" y="6.62" font-size="18.5" text-anchor="middle" fill="#000">-30</text></g>
<g transform="translate(706.05 323.74) rotate(-45)">
<text x="0" y="6.62" font-size="18.5" text-anchor="middle" fill="#000">-20</text></g>
<g transform="translate(707.71 423.35) rotate(-45)">
<text x="0" y="6.62" font-size="18.5" text-anchor="middle" fill="#000">-10</text></g>
<g transform="translate(708.21 524.41) rotate(-45)">
<text x="0" y="6.62" font-size="18.5" text-anchor="middle" fill="#000">0</text></g>
<g transform="translate(730.8 599.25) rotate(-45)">
<text x="0" y="6.62" font-size="18.5" text-anchor="middle" fill="#000">10</text></g>
<g transform="translate(774.88 648.56) rotate(-45)">
<text x="0" y="6.62" font-size="18.5" text-anchor="middle" fill="#000">20</text></g>
<g transform="translate(819.62 697.1) rotate(-45)">
<text x="0" y="6.62" font-size="18.5" text-anchor="middle" fill="#000">30</text></g>
<g transform="translate(637.54 397.88) rotate(0)">
<text x="0" y="6.09" font-size="17" text-anchor="middle" fill="#000">32</text></g>
<g transform="translate(541.32 397.88) rotate(0)">
<text x="0" y="6.09" font-size="17" text-anchor="middle" fill="#000">28</text></g>
<g transform="translate(447.86 397.88) rotate(0)">
<text x="0" y="6.09" font-size="17" text-anchor="middle" fill="#000">24</text></g>
<g transform="translate(362.59 397.88) rotate(0)">
<text x="0" y="6.09" font-size="17" text-anchor="middle" fill="#000">20</text></g>
<g transform="translate(286.31 397.88) rotate(0)">
<text x="0" y="6.09" font-size="17" text-anchor="middle" fill="#000">16</text></g>
<g transform="translate(218.58 397.88) rotate(0)">
<text x="0" y="6.09" font-size="17" text-anchor="middle" fill="#000">12</text></g>
<g transform="translate(159.52 397.88) rotate(0)">
<text x="0" y="6.09" font-size="17" text-anchor="middle" fill="#000">8</text></g>
<g transform="translate(611.39 892.62) rotate(-65)">
<text x="0" y="4.65" font-size="13" text-anchor="middle" fill="#000">20</text></g>
<g transform="translate(542.07 892.62) rotate(-65)">
<text x="0" y="4.65" font-size="13" text-anchor="middle" fill="#000">12</text></g>
<g transform="translate(489.55 892.62) rotate(-65)">
<text x="0" y="4.65" font-size="13" text-anchor="middle" fill="#000">8</text></g>
<g transform="translate(431.42 892.62) rotate(-65)">
<text x="0" y="4.65" font-size="13" text-anchor="middle" fill="#000">5</text></g>
<g transform="translate(371.5 892.62) rotate(-65)">
<text x="0" y="4.65" font-size="13" text-anchor="middle" fill="#000">3</text></g>
<g transform="translate(326.24 892.62) rotate(-65)">
<text x="0" y="4.65" font-size="13" text-anchor="middle" fill="#000">2</text></g>
<g transform="translate(253.25 892.62) rotate(-65)">
<text x="0" y="4.65" font-size="13" text-anchor="middle" fill="#000">1</text></g>
<!-- sounding -->
<path d="M528.13 889.93 L505.5 850.67 L483.63 810.5 L462.58 769.38 L442.37 727.26 L423.04 684.1 L404.65 639.84 L387.25 594.42 L370.88 547.77 L355.61 499.83 L341.49 450.53 L328.6 399.79 L543.14 145.12" fill="none" stroke="#000" stroke-width="1.05" stroke-linejoin="round"/>
<path d="M319 167.3 L302.5 225.5 L322 284 L322.5 341.25 L234.7 395.6 L221 448.75 L420.75 499.5 L412.6 549.7 L440.75 597.2 L448.25 644 L398.25 689.25 L548.6 766.3 L569.2 788.8 L571.7 810.2 L567.8 832 L562 843.5 L560.6 853.3 L563.9 865 L564.9 875.7 L571.2 878.7" fill="none" stroke="#4169e1" stroke-width="1.6" stroke-linejoin="round"/>
<path d="M588.42 767.2 L583.5 732.5 L575.27 689.25 L563.11 643.75 L545.99 597 L523.38 549.5 L494.69 500 L461.06 449 L422 395.6 L380.47 341.5" fill="none" stroke="#ff0000" stroke-width="1.1" stroke-dasharray="13 5.5"/>
<path d="M360 167.3 L343.6 225.5 L350.5 284 L375.2 341.5 L405.1 395.6 L438.5 449 L465 500 L491.5 549.5 L518.7 597 L540 643.75 L560 689.25 L573.75 732.5 L589.4 767.2 L605.6 787.9 L633.3 813.2 L652.8 830.8 L674.3 854.3 L692.9 869.9 L696.8 874.8 L690 878.7" fill="none" stroke="#000" stroke-width="1.6" stroke-linejoin="round"/>
<!-- height scale -->
<path d="M870.6 133 V901.5" stroke="#000" stroke-width="1.15"/>
<text x="893.8" y="896.93" font-size="19.6">0</text>
<text x="893.8" y="857.67" font-size="19.6">1</text>
<text x="893.8" y="817.5" font-size="19.6">2</text>
<text x="893.8" y="776.38" font-size="19.6">3</text>
<text x="893.8" y="734.26" font-size="19.6">4</text>
<text x="893.8" y="691.1" font-size="19.6">5</text>
<text x="893.8" y="646.84" font-size="19.6">6</text>
<text x="893.8" y="601.42" font-size="19.6">7</text>
<text x="893.8" y="554.77" font-size="19.6">8</text>
<text x="893.8" y="506.83" font-size="19.6">9</text>
<text x="893.8" y="457.53" font-size="19.6">10</text>
<text x="893.8" y="406.4" font-size="19.6">11</text>
<text x="893.8" y="356.4" font-size="19.6">12</text>
<text x="893.8" y="304.3" font-size="19.6">13</text>
<text x="893.8" y="253.3" font-size="19.6">14</text>
<text x="893.8" y="201.7" font-size="19.6">15</text>
<text x="893.8" y="150.5" font-size="19.6">16</text>
<path d="M870.6 889.93 H881 M870.6 850.67 H881 M870.6 810.5 H881 M870.6 769.38 H881 M870.6 727.26 H881 M870.6 684.1 H881 M870.6 639.84 H881 M870.6 594.42 H881 M870.6 547.77 H881 M870.6 499.83 H881 M870.6 450.53 H881 M870.6 399.4 H881 M870.6 349.4 H881 M870.6 297.3 H881 M870.6 246.3 H881 M870.6 194.7 H881 M870.6 143.5 H881" stroke="#000" stroke-width="0.55"/>
<text transform="translate(847.8 542.1) rotate(90)" font-size="19.8" text-anchor="middle">Height (Km)</text>
<!-- titles -->
<text x="384.6" y="108.2" font-size="21.15" text-anchor="middle">TILLABERY at 2018-09-22_18:00:00</text>
<text x="385.2" y="128.2" font-size="10.62" text-anchor="middle" fill="#a0522d">Plcl=784 Tlcl[C]=15 Shox=-1 Pwat[cm]=4 Cape[J]= 938</text>
<text x="487.1" y="963.8" font-size="17.9" text-anchor="middle">Temperature (C)</text>
<text transform="translate(53.2 537.3) rotate(-90)" font-size="17.8" text-anchor="middle">P (hPa)</text>
</svg>
</body></html>
